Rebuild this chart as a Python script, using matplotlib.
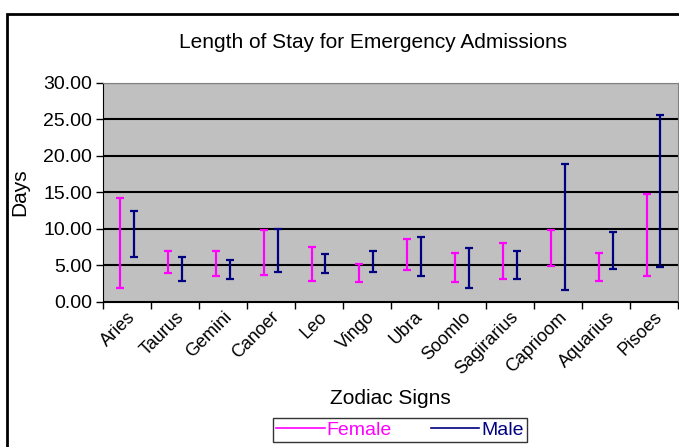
import matplotlib
matplotlib.use("Agg")
import matplotlib.pyplot as plt
import numpy as np
from matplotlib.patches import Rectangle

plt.rcParams['font.family'] = ['Liberation Sans', 'DejaVu Sans']

# zodiac signs as printed on the original chart
signs = ['Aries', 'Taurus', 'Gemini', 'Canoer', 'Leo', 'Vingo', 'Ubra',
         'Soomlo', 'Sagirarius', 'Caprioom', 'Aquarius', 'Pisoes']

# low / high ends of each range (days)
female_low = [1.9, 3.9, 3.5, 3.7, 2.9, 2.7, 4.3, 2.7, 3.1, 4.9, 2.9, 3.5]
female_high = [14.2, 6.9, 6.9, 9.8, 7.5, 5.1, 8.6, 6.7, 8.1, 9.8, 6.7, 14.7]
male_low = [6.1, 2.9, 3.1, 4.1, 3.9, 4.1, 3.5, 1.9, 3.1, 1.6, 4.5, 4.7]
male_high = [12.4, 6.1, 5.7, 10.0, 6.5, 7.0, 8.9, 7.3, 6.9, 18.9, 9.6, 25.6]

f_col = '#FF00FF'
m_col = '#000080'

fig = plt.figure(figsize=(6.79, 4.47), dpi=100)
ax = fig.add_axes([103.3 / 679, 145.3 / 447, 574.4 / 679, 219 / 447])
ax.set_facecolor('#C0C0C0')

x = np.arange(len(signs)) + 0.5
fl = np.array(female_low); fh = np.array(female_high)
ml = np.array(male_low); mh = np.array(male_high)

ax.errorbar(x - 0.15, (fl + fh) / 2, yerr=(fh - fl) / 2, fmt='none',
            ecolor=f_col, elinewidth=1.6, capsize=3.2, capthick=1.6, zorder=3)
ax.errorbar(x + 0.14, (ml + mh) / 2, yerr=(mh - ml) / 2, fmt='none',
            ecolor=m_col, elinewidth=1.6, capsize=3.2, capthick=1.6, zorder=3)

ax.set_xlim(0, len(signs))
ax.set_ylim(0, 30)
ax.set_yticks(np.arange(0, 31, 5))
ax.set_yticklabels(['%.2f' % v for v in np.arange(0, 31, 5)], fontsize=14)
ax.yaxis.grid(True, color='black', linewidth=1.5)
ax.set_axisbelow(True)

ax.set_xticks(np.arange(0, len(signs) + 1))
ax.set_xticklabels([])
ax.set_xticks(x, minor=True)
ax.set_xticklabels(signs, minor=True, rotation=45, ha='right',
                   rotation_mode='anchor', fontsize=13)
ax.tick_params(axis='x', which='minor', length=0, pad=5)
ax.tick_params(axis='both', which='major', direction='out', length=5,
               width=1, color='black', pad=3)

for s in ['top', 'right']:
    ax.spines[s].set_color('#808080')
for s in ['left', 'bottom']:
    ax.spines[s].set_color('black')

ax.set_xlabel('Zodiac Signs', fontsize=15, labelpad=8)
ax.set_ylabel('Days', fontsize=15, labelpad=10)
fig.text(373 / 679, 1 - 42 / 447, 'Length of Stay for Emergency Admissions',
         ha='center', va='center', fontsize=15)

f_line, = ax.plot([], [], color=f_col, lw=1.2, label='Female')
m_line, = ax.plot([], [], color=m_col, lw=1.2, label='Male')
leg = fig.legend(handles=[f_line, m_line], loc='center',
                 bbox_to_anchor=(400 / 679, 1 - 430 / 447), ncol=2,
                 fontsize=14, frameon=True, fancybox=False,
                 edgecolor='black', handlelength=2.5, handletextpad=0.1,
                 columnspacing=2.0, borderpad=0.15)
leg.get_frame().set_linewidth(1.0)
for t, c in zip(leg.get_texts(), [f_col, m_col]):
    t.set_color(c)

# outer chart border
fig.patches.append(Rectangle((7 / 679, -0.05), 1.0, 1 - 13.5 / 447 + 0.05,
                             transform=fig.transFigure, fill=False,
                             edgecolor='black', linewidth=2))

fig.savefig('out.png', dpi=100)
